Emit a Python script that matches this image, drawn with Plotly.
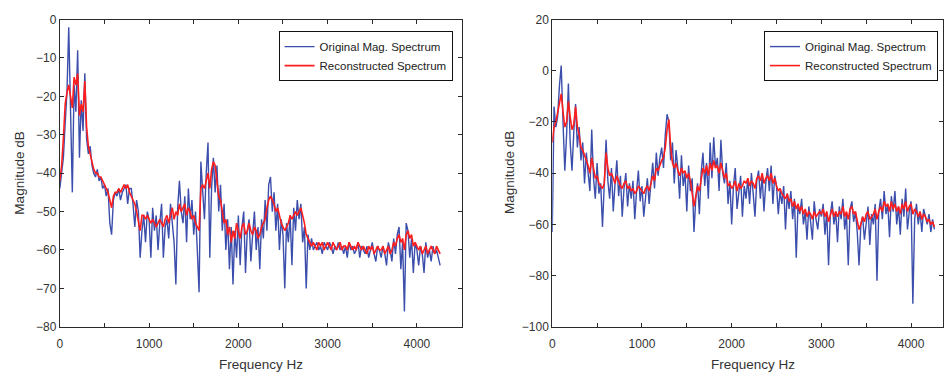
import plotly.graph_objects as go

# Frequency bins (Hz)
freq = list(range(0, 4261, 20))

# Left panel: original magnitude spectrum (dB)
left_orig = [
    -44, -40, -36, -27, -19, -2, -28, -45, -17, -24,
    -8, -36, -21, -29, -14, -31, -35, -33, -38, -40,
    -41, -39, -42, -41, -44, -43, -46, -44, -53, -56,
    -47, -45, -46, -44, -47, -45, -44, -43, -48, -44,
    -44, -48, -54, -47, -50, -62, -55, -51, -58, -50,
    -52, -62, -49, -55, -51, -60, -53, -48, -62, -54,
    -52, -57, -48, -54, -58, -69, -49, -42, -50, -53,
    -46, -58, -44, -52, -47, -56, -50, -60, -71, -37,
    -44, -52, -40, -32, -62, -44, -36, -45, -38, -50,
    -43, -55, -48, -60, -52, -65, -54, -69, -55, -62,
    -51, -64, -54, -50, -66, -55, -52, -63, -56, -50,
    -60, -54, -65, -52, -57, -47, -55, -43, -41, -50,
    -45, -55, -48, -60, -52, -56, -70, -53, -58, -51,
    -64, -49, -55, -47, -52, -48, -58, -54, -70, -56,
    -60, -57, -60, -59, -58, -60, -59, -61, -58, -59,
    -60, -58, -59, -61, -59, -60, -58, -60, -59, -61,
    -59, -62, -58, -60, -59, -61, -60, -58, -62, -59,
    -60, -61, -59, -62, -60, -58, -61, -63, -59, -60,
    -62, -59, -61, -64, -58, -60, -63, -57, -61, -56,
    -54, -65, -58, -76, -53, -55, -62, -57, -66, -58,
    -60, -64, -59, -61, -66, -58, -62, -60, -63, -59,
    -61, -60, -62, -64,
]

# Left panel: reconstructed spectrum (dB)
left_recon = [
    -42, -38, -31, -22, -19, -17, -20, -23, -15, -17,
    -14, -25, -22, -24, -16, -28, -33, -35, -37, -39,
    -40, -40, -41, -41, -42, -43, -44, -45, -47, -49,
    -46, -45, -45, -44, -45, -44, -43, -44, -43, -45,
    -46, -47, -48, -50, -53, -55, -51, -51, -52, -51,
    -52, -53, -52, -53, -54, -53, -52, -53, -54, -52,
    -51, -53, -51, -49, -52, -50, -51, -48, -50, -49,
    -48, -51, -49, -50, -52, -51, -53, -54, -55, -44,
    -43, -44, -42, -40, -44, -39, -37, -38, -42, -46,
    -47, -50, -53, -52, -56, -54, -58, -55, -57, -53,
    -55, -57, -54, -53, -56, -55, -53, -55, -56, -54,
    -55, -57, -56, -54, -53, -52, -49, -47, -46, -47,
    -48, -50, -49, -51, -53, -54, -55, -54, -53, -51,
    -52, -51, -50, -51, -50, -49, -51, -53, -56, -57,
    -58, -59, -58, -59, -60, -58, -59, -58, -60, -59,
    -58, -59, -60, -58, -59, -60, -59, -58, -60, -59,
    -59, -60, -58, -59, -60, -59, -60, -58, -59, -60,
    -59, -60, -61, -59, -60, -59, -61, -60, -59, -60,
    -60, -59, -61, -60, -59, -61, -60, -58, -59, -57,
    -56, -58, -57, -60, -56, -55, -57, -56, -59, -58,
    -59, -60, -59, -61, -60, -59, -61, -60, -59, -60,
    -61, -59, -60, -61,
]

# Right panel: original magnitude spectrum (dB)
right_orig = [
    -63, -14, -22, -18, -6, 2, -20, -39, -25, -5,
    -28, -39, -24, -13, -30, -22, -35, -28, -44, -32,
    -40, -47, -23, -42, -50, -36, -48, -44, -61, -45,
    -27, -43, -50, -38, -55, -44, -35, -49, -41, -57,
    -46, -40, -53, -44, -50, -43, -58, -47, -39, -51,
    -45, -57, -48, -42, -52, -44, -36, -46, -32, -41,
    -34, -30, -38, -25, -17, -20, -35, -28, -44, -31,
    -38, -50, -33, -45, -40, -55, -37, -47, -42, -63,
    -50, -44, -56, -40, -32, -45, -36, -50, -28, -42,
    -26, -38, -34, -47, -27, -40, -44, -36, -52, -43,
    -60, -45, -38, -54, -46, -41, -57, -45, -50, -42,
    -52, -40, -48, -57, -43, -39, -50, -41, -55, -44,
    -38, -47, -37, -52, -41, -45, -56, -47, -52, -45,
    -62, -48, -54, -47, -58, -50, -73, -52, -56, -50,
    -60, -55, -66, -53, -59, -66, -51, -58, -62, -54,
    -57, -52, -64, -55, -76, -56, -51, -60, -55, -67,
    -53, -58, -50, -62, -56, -76, -54, -51, -59, -55,
    -63, -76, -60, -57, -66, -58, -53, -68, -56, -60,
    -52, -82, -55, -50, -58, -47, -56, -52, -65, -49,
    -55, -47, -60, -53, -64, -50, -57, -46, -62, -55,
    -51, -91, -58, -52, -60, -55, -63, -54, -57, -60,
    -56, -63, -58, -62,
]

# Right panel: reconstructed spectrum (dB)
right_recon = [
    -28, -22, -20, -16, -12, -9, -16, -22, -20, -12,
    -18, -23, -21, -14, -22, -25, -30, -31, -33, -35,
    -37, -40, -34, -38, -42, -41, -44, -45, -46, -44,
    -32, -38, -41, -40, -42, -44, -41, -43, -45, -46,
    -44, -43, -46, -45, -47, -46, -48, -47, -45, -46,
    -47, -48, -46, -45, -47, -44, -41, -43, -38, -39,
    -37, -35, -34, -30, -23, -19, -30, -36, -38, -36,
    -39, -41, -38, -40, -39, -42, -40, -43, -48, -53,
    -49, -45, -47, -42, -38, -40, -37, -41, -36, -39,
    -35, -38, -37, -40, -36, -39, -42, -40, -45, -44,
    -46, -45, -43, -47, -44, -46, -45, -43, -44, -42,
    -45, -43, -44, -46, -42, -41, -43, -40, -44, -42,
    -41, -43, -40, -44, -42, -45, -47, -46, -48, -49,
    -50, -48, -51, -50, -53, -51, -54, -52, -55, -53,
    -56, -54, -57, -55, -56, -58, -55, -57, -56, -55,
    -56, -54, -57, -55, -59, -56, -54, -57, -55, -57,
    -55, -56, -53, -57, -55, -58, -54, -53, -56, -55,
    -58, -62, -60, -57, -59, -56, -55, -58, -57, -56,
    -54, -58, -55, -53, -55, -51, -53, -52, -55, -51,
    -54, -52, -55, -53, -56, -52, -54, -51, -55, -53,
    -52, -56, -54, -55, -57, -55, -58, -56, -57, -59,
    -58, -60, -59, -61,
]

x_tickvals = [0, 500, 1000, 1500, 2000, 2500, 3000, 3500, 4000]
x_ticktext = ["0", "", "1000", "", "2000", "", "3000", "", "4000"]
left_yticks = [-80, -70, -60, -50, -40, -30, -20, -10, 0]
right_yticks = [-100, -80, -60, -40, -20, 0, 20]

BLUE = "#3B4EAC"
RED = "#FF1E1E"
AX = "#2b2b2b"
FONT = "Liberation Sans, Arial, sans-serif"

W, H = 945, 381

def px_x(p):
    return p / W

def px_y(p):
    return (H - p) / H

fig = go.Figure()
fig.add_trace(go.Scatter(x=freq, y=left_orig, mode="lines", name="Original Mag. Spectrum",
                         line=dict(color=BLUE, width=1.4), xaxis="x", yaxis="y", legend="legend"))
fig.add_trace(go.Scatter(x=freq, y=left_recon, mode="lines", name="Reconstructed Spectrum",
                         line=dict(color=RED, width=1.6), xaxis="x", yaxis="y", legend="legend"))
fig.add_trace(go.Scatter(x=freq, y=right_orig, mode="lines", name="Original Mag. Spectrum",
                         line=dict(color=BLUE, width=1.4), xaxis="x2", yaxis="y2", legend="legend2"))
fig.add_trace(go.Scatter(x=freq, y=right_recon, mode="lines", name="Reconstructed Spectrum",
                         line=dict(color=RED, width=1.6), xaxis="x2", yaxis="y2", legend="legend2"))

common_axis = dict(showline=True, linecolor=AX, linewidth=1, mirror="allticks",
                   ticks="inside", ticklen=4, tickcolor=AX, showgrid=False, zeroline=False,
                   tickfont=dict(family=FONT, size=12, color="#333333"))

ydom = [px_y(332), px_y(13)]

fig.update_layout(
    width=W, height=H,
    margin=dict(l=0, r=0, t=0, b=0),
    paper_bgcolor="white", plot_bgcolor="white",
    xaxis=dict(domain=[px_x(57), px_x(460)], range=[0, 4500], tickvals=x_tickvals,
               ticktext=x_ticktext, anchor="y", ticklabelstandoff=6, **common_axis),
    yaxis=dict(domain=ydom, range=[-80, 0], tickvals=left_yticks, anchor="x", **common_axis),
    xaxis2=dict(domain=[px_x(551), px_x(943)], range=[0, 4356], tickvals=x_tickvals,
                ticktext=x_ticktext, anchor="y2", ticklabelstandoff=6, **common_axis),
    yaxis2=dict(domain=ydom, range=[-100, 20], tickvals=right_yticks, anchor="x2", **common_axis),
    legend=dict(x=px_x(451), y=px_y(25), xanchor="right", yanchor="top",
                bordercolor="#111111", borderwidth=1, bgcolor="white",
                font=dict(family=FONT, size=11.5, color="#222222"), tracegroupgap=0),
    legend2=dict(x=px_x(938), y=px_y(25), xanchor="right", yanchor="top",
                 bordercolor="#111111", borderwidth=1, bgcolor="white",
                 font=dict(family=FONT, size=11.5, color="#222222"), tracegroupgap=0),
    showlegend=True,
)

ann_font = dict(family=FONT, size=13.5, color="#333333")
annotations = [
    dict(text="Magnitude dB", x=px_x(17), y=px_y(172), xref="paper", yref="paper",
         showarrow=False, textangle=-90, font=ann_font, xanchor="center", yanchor="middle"),
    dict(text="Magnitude dB", x=px_x(508), y=px_y(172), xref="paper", yref="paper",
         showarrow=False, textangle=-90, font=ann_font, xanchor="center", yanchor="middle"),
    dict(text="Frequency Hz", x=px_x(259), y=px_y(371), xref="paper", yref="paper",
         showarrow=False, font=ann_font, xanchor="center", yanchor="middle"),
    dict(text="Frequency Hz", x=px_x(752), y=px_y(371), xref="paper", yref="paper",
         showarrow=False, font=ann_font, xanchor="center", yanchor="middle"),
]
fig.update_layout(annotations=annotations)

fig.write_html("out.html")
